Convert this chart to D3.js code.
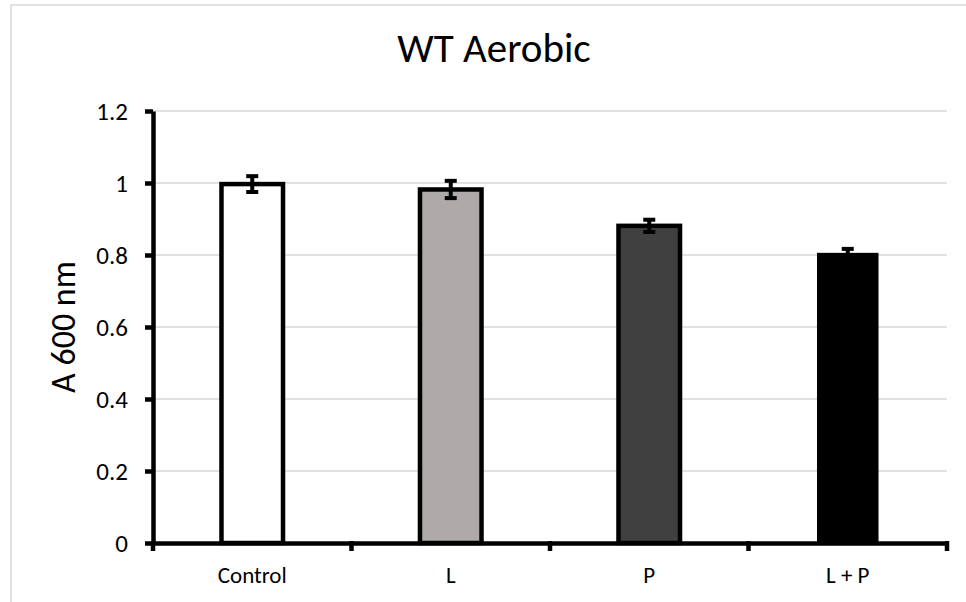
<!DOCTYPE html>
<html>
<head>
<meta charset="utf-8">
<script src="https://cdn.jsdelivr.net/npm/d3@7/dist/d3.min.js"></script>
<style>
  body { margin: 0; background: #fff; }
  svg text { font-family: Carlito, "Open Sans", sans-serif; fill: #000; }
</style>
</head>
<body>
<div id="chart"></div>
<script>
// data
var categories = ['Control', 'L', 'P', 'L + P'],
    values = [0.997, 0.982, 0.881, 0.806],
    errors = [0.022, 0.024, 0.017, 0.011],
    yTicks = [0, 0.2, 0.4, 0.6, 0.8, 1, 1.2];

var fills = ['#ffffff', '#aeaaaa', '#404040', '#000000'];

var width = 966, height = 602,
    plot = { left: 153, right: 947, top: 111, bottom: 543 };

var svg = d3.select('#chart').append('svg')
    .attr('width', width)
    .attr('height', height);

// chart area border (runs off the right and bottom edges)
svg.append('rect')
  .attr('x', 11).attr('y', 5)
  .attr('width', 966).attr('height', 620)
  .attr('fill', 'none')
  .attr('stroke', '#d9d9d9')
  .attr('stroke-width', 1.5);

// Scales
var x = d3.scaleBand()
  .domain(categories)
  .range([plot.left, plot.right])
  .padding(0);

var y = d3.scaleLinear()
  .domain([0, 1.2])
  .range([plot.bottom, plot.top]);

// Gridlines
svg.append('g')
  .attr('class', 'grid')
  .selectAll('line')
  .data(yTicks.slice(1))
  .enter().append('line')
    .attr('x1', plot.left).attr('x2', plot.right)
    .attr('y1', function(d){ return y(d); })
    .attr('y2', function(d){ return y(d); })
    .attr('stroke', '#d9d9d9')
    .attr('stroke-width', 1.5);

// Bars
var barWidth = x.bandwidth() * 0.31;

svg.append('g')
  .selectAll('rect')
  .data(values)
  .enter().append('rect')
    .attr('x', function(d, i){ return x(categories[i]) + x.bandwidth()/2 - barWidth/2; })
    .attr('y', function(d){ return y(d); })
    .attr('width', barWidth)
    .attr('height', function(d){ return y(0) - y(d); })
    .attr('fill', function(d, i){ return fills[i]; })
    .attr('stroke', function(d, i){ return i === 3 ? 'none' : '#000'; })
    .attr('stroke-width', 4.5);

// Error bars
var err = svg.append('g').attr('class', 'errors')
  .selectAll('g')
  .data(values)
  .enter().append('g')
    .attr('transform', function(d, i){ return translate(x(categories[i]) + x.bandwidth()/2, 0); });

err.append('line')
  .attr('x1', 0).attr('x2', 0)
  .attr('y1', function(d, i){ return y(d + errors[i]); })
  .attr('y2', function(d, i){ return y(d - errors[i]); })
  .attr('stroke', '#000').attr('stroke-width', 4);

[1, -1].forEach(function(sign){
  err.append('line')
    .attr('x1', -6).attr('x2', 6)
    .attr('y1', function(d, i){ return y(d + sign*errors[i]); })
    .attr('y2', function(d, i){ return y(d + sign*errors[i]); })
    .attr('stroke', '#000').attr('stroke-width', 4);
});

// Y axis
var yAxis = d3.axisLeft(y)
  .tickValues(yTicks)
  .tickFormat(function(d){ return String(+d.toFixed(1)); })
  .tickSize(8)
  .tickSizeOuter(0)
  .tickPadding(17);

var yG = svg.append('g')
  .attr('transform', translate(plot.left, 0))
  .call(yAxis);

yG.select('.domain').attr('stroke', '#000').attr('stroke-width', 4.5);
yG.selectAll('.tick line').attr('stroke', '#000').attr('stroke-width', 4.5);
yG.selectAll('.tick text')
  .style('font-size', '25px')
  .attr('dy', '0.34em');

// X axis: labels at centres, ticks at category boundaries
var xAxis = d3.axisBottom(x)
  .tickSize(0)
  .tickSizeOuter(0)
  .tickPadding(24);

var xG = svg.append('g')
  .attr('transform', translate(0, plot.bottom))
  .call(xAxis);

xG.select('.domain').attr('stroke', '#000').attr('stroke-width', 4.5);
xG.selectAll('.tick text').style('font-size', '23px');

xG.selectAll('.bound')
  .data(categories.concat(['end']))
  .enter().append('line')
    .attr('class', 'bound')
    .attr('x1', function(d, i){ return plot.left + i * x.step(); })
    .attr('x2', function(d, i){ return plot.left + i * x.step(); })
    .attr('y1', -2).attr('y2', 8)
    .attr('stroke', '#000').attr('stroke-width', 4.5);

// Titles
svg.append('text')
  .attr('x', 494).attr('y', 62)
  .attr('text-anchor', 'middle')
  .style('font-size', '41px')
  .text('WT Aerobic');

svg.append('text')
  .attr('transform', translate(75, 327) + ' rotate(-90)')
  .attr('text-anchor', 'middle')
  .style('font-size', '34px')
  .text('A 600 nm');

function translate(x, y){
  return 'translate(' + x + ',' + y + ')';
}
</script>
</body>
</html>
